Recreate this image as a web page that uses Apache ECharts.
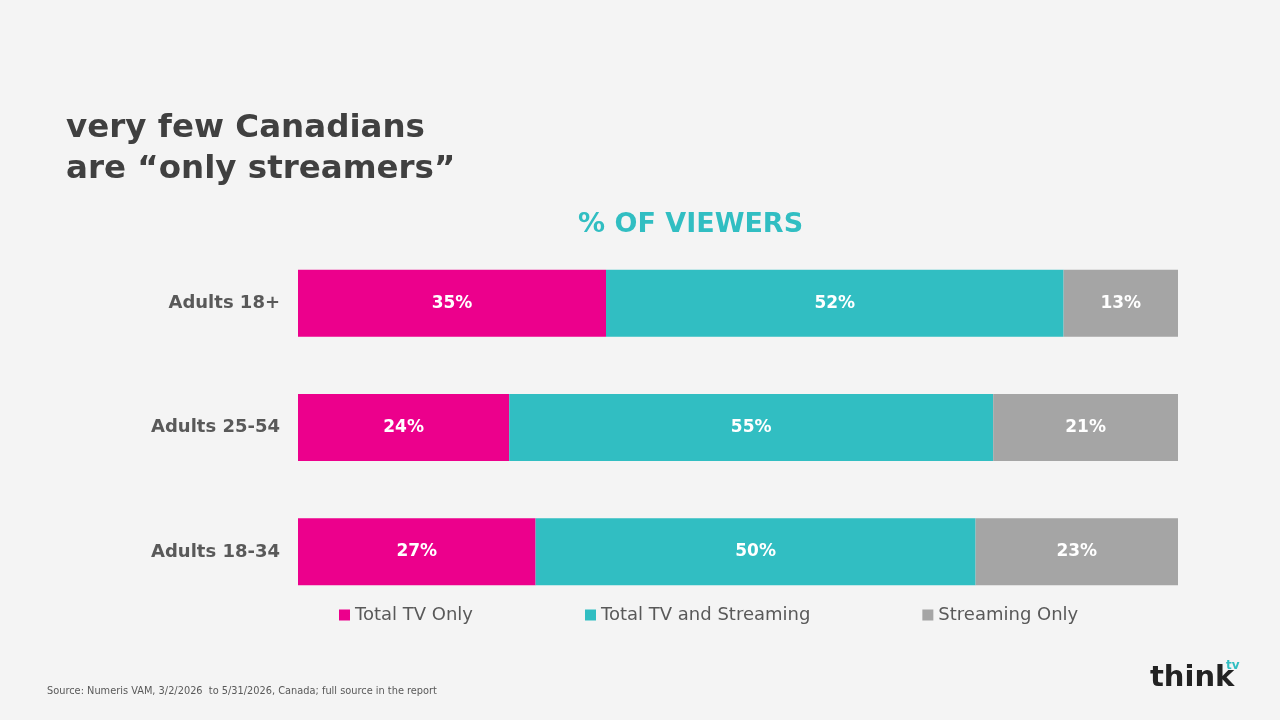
<!DOCTYPE html>
<html><head><meta charset="utf-8">
<script src="https://cdn.jsdelivr.net/npm/echarts@6/dist/echarts.min.js"></script>
<style>html,body{margin:0;background:#f4f4f4}#c{width:1280px;height:720px}</style>
</head><body><div id="c"></div>
<script>
const categories = ['Adults 18-34','Adults 25-54','Adults 18+'];
const tvOnly = [27,24,35];
const tvAndStreaming = [50,55,52];
const streamingOnly = [23,21,13];
const seriesNames = ['Total TV Only','Total TV and Streaming','Streaming Only'];
const colors = ['#ec008c','#31bec2','#a5a5a5'];
const F = 'DejaVu Sans, Verdana, sans-serif';
const mk = (name, data, i) => ({
  name, type:'bar', stack:'s', data, barWidth:67,
  itemStyle:{color:colors[i]},
  label:{show:true, formatter:'{c}%', color:'#fff', fontWeight:'bold', fontSize:17, fontFamily:F}
});
const chart = echarts.init(document.getElementById('c'));
chart.setOption({
  backgroundColor:'#f4f4f4',
  grid:{left:298, right:102, top:241, bottom:106},
  xAxis:{type:'value', min:0, max:100, show:false},
  yAxis:{type:'category', data:categories, axisLine:{show:false}, axisTick:{show:false},
    axisLabel:{color:'#595959', fontSize:18, fontWeight:'bold', fontFamily:F, margin:18}},
  legend:{left:334, top:601, itemWidth:11, itemHeight:11, itemGap:112, icon:'rect',
    textStyle:{color:'#595959', fontSize:18, fontFamily:F}, data:seriesNames},
  series:[mk(seriesNames[0], tvOnly, 0), mk(seriesNames[1], tvAndStreaming, 1), mk(seriesNames[2], streamingOnly, 2)],
  graphic:[
    {type:'text', left:66, top:108, style:{text:'very few Canadians\nare “only streamers”', fill:'#404040', font:'bold 32.5px '+F, lineHeight:41}},
    {type:'text', left:578, top:211, style:{text:'% OF VIEWERS', fill:'#31bec2', font:'bold 27px '+F}},
    {type:'text', left:47, top:686, style:{text:'Source: Numeris VAM, 3/2/2026  to 5/31/2026, Canada; full source in the report', fill:'#595959', font:'9.8px '+F}},
    {type:'text', left:1150, top:664, style:{text:'think', fill:'#222', font:'bold 29px '+F}},
    {type:'text', left:1226, top:660, style:{text:'tv', fill:'#31bec2', font:'bold 12px '+F}}
  ]
});
</script></body></html>
